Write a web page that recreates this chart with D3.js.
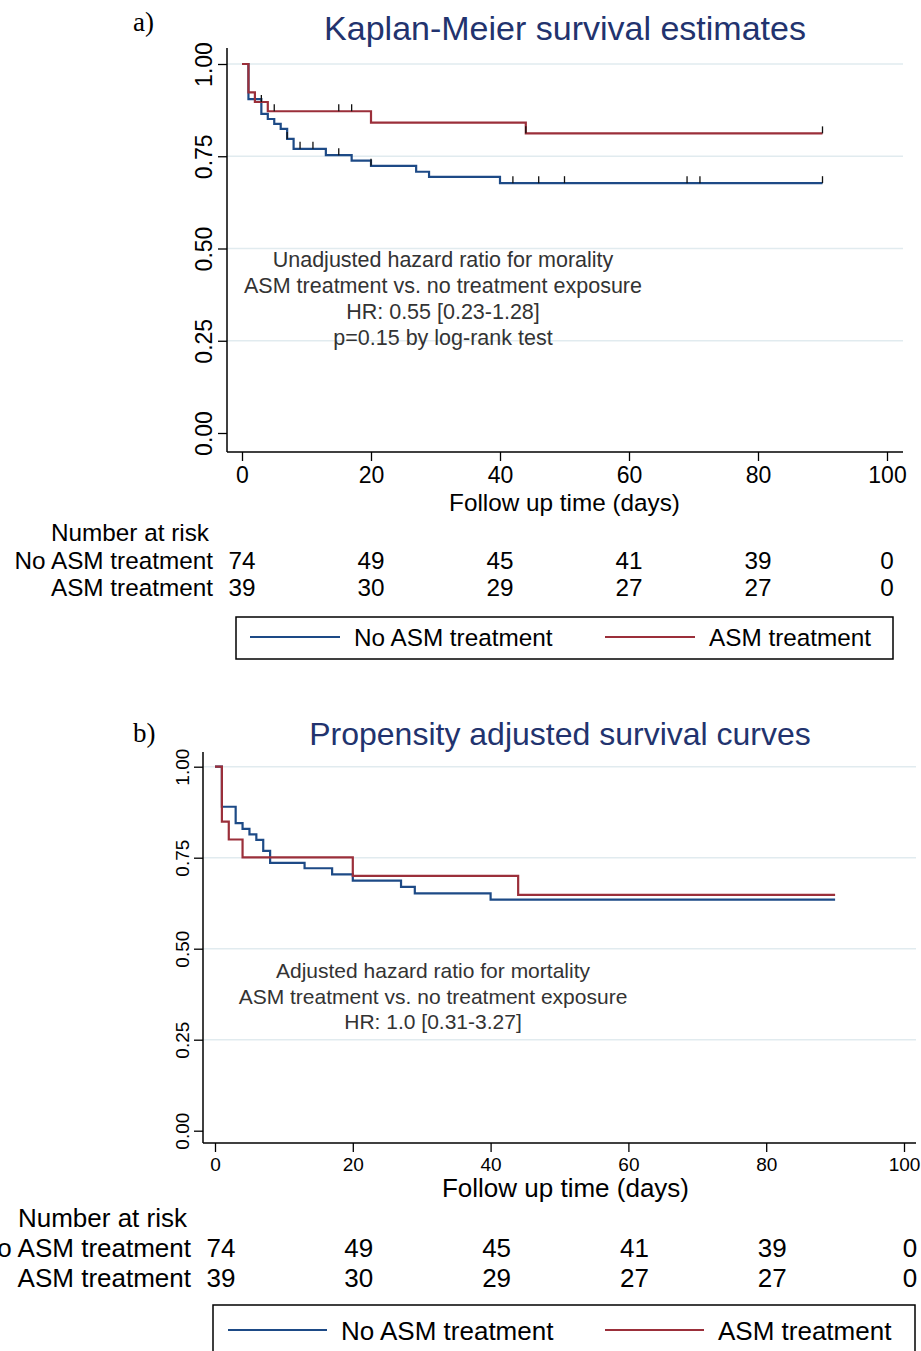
<!DOCTYPE html>
<html>
<head>
<meta charset="utf-8">
<script src="https://cdn.jsdelivr.net/npm/d3@7"></script>
<style>
  body { margin: 0; background: #fff; }
  svg { display: block; font-family: "Liberation Sans", Arial, Helvetica, sans-serif; }
</style>
</head>
<body>
<svg id="chart" width="921" height="1351"></svg>
<script>
// survival steps (time in days, survival probability)
const noTxTimesA = [0, 1, 3, 4, 5, 6, 7, 8, 13, 17, 20, 27, 29, 40, 90];
const noTxSurvA = [1, 0.905, 0.865, 0.851, 0.838, 0.824, 0.797, 0.770, 0.753, 0.738, 0.724, 0.708, 0.694, 0.677, 0.677];
const noTxCensorA = [7, 9, 11, 15, 20, 42, 46, 50, 69, 71, 90];

const txTimesA = [0, 1, 2, 4, 20, 44, 90];
const txSurvA = [1, 0.923, 0.897, 0.872, 0.841, 0.812, 0.812];
const txCensorA = [3, 5, 15, 17, 44, 90];

const noTxTimesB = [0, 1, 3, 4, 5, 6, 7, 8, 13, 17, 20, 27, 29, 40, 90];
const noTxSurvB = [1, 0.890, 0.845, 0.829, 0.814, 0.799, 0.769, 0.736, 0.721, 0.704, 0.687, 0.670, 0.652, 0.635, 0.635];

const txTimesB = [0, 1, 2, 4, 20, 44, 90];
const txSurvB = [1, 0.849, 0.800, 0.751, 0.700, 0.648, 0.648];

const xTicks = [0, 20, 40, 60, 80, 100];
const yTicks = [0, 0.25, 0.5, 0.75, 1];
const riskTimes = [0, 20, 40, 60, 80, 100];
const riskNoTx = [74, 49, 45, 41, 39, 0];
const riskTx = [39, 30, 29, 27, 27, 0];

const seriesNames = ['No ASM treatment', 'ASM treatment'];
const BLUE = '#1d4a86';
const RED = '#9b2f3a';
const TITLE = '#22336e';

const svg = d3.select('#chart');

function drawPanel(p) {
  const x = d3.scaleLinear().domain([0, 100]).range(p.xRange);
  const y = d3.scaleLinear().domain([0, 1]).range(p.yRange);
  const g = svg.append('g');

  // panel letter + title
  g.append('text')
    .attr('x', 133).attr('y', p.letterY)
    .style('font-family', '"Liberation Serif", "Times New Roman", serif')
    .style('font-size', '27px')
    .text(p.letter);
  g.append('text')
    .attr('x', p.titleX).attr('y', p.titleY)
    .attr('text-anchor', 'middle')
    .attr('fill', TITLE)
    .style('font-size', p.titleSize + 'px')
    .text(p.title);

  // grid
  g.selectAll('.grid')
    .data(yTicks.filter((d) => d > 0))
    .enter().append('line')
    .attr('x1', p.left).attr('x2', p.right)
    .attr('y1', (d) => y(d)).attr('y2', (d) => y(d))
    .attr('stroke', '#e1ebef').attr('stroke-width', 1.5);

  // axes
  const xAxis = g.append('g')
    .attr('transform', `translate(0,${p.bottom})`)
    .call(d3.axisBottom(x).tickValues(xTicks).tickSize(9).tickSizeOuter(0));
  xAxis.select('.domain').remove();
  xAxis.selectAll('line').attr('stroke', '#000').attr('stroke-width', 1.3);
  xAxis.selectAll('text')
    .attr('y', p.xLabelDy).attr('dy', 0)
    .attr('fill', '#000')
    .style('font-family', '"Liberation Sans", Arial, sans-serif')
    .style('font-size', p.tickSize + 'px');

  const yAxis = g.append('g')
    .attr('transform', `translate(${p.left},0)`)
    .call(d3.axisLeft(y).tickValues(yTicks).tickFormat(d3.format('.2f')).tickSize(9).tickSizeOuter(0));
  yAxis.select('.domain').remove();
  yAxis.selectAll('line').attr('stroke', '#000').attr('stroke-width', 1.3);
  yAxis.selectAll('text')
    .attr('transform', 'rotate(-90)')
    .attr('x', 0).attr('y', -p.yLabelOff).attr('dy', 0)
    .attr('text-anchor', 'middle')
    .attr('fill', '#000')
    .style('font-family', '"Liberation Sans", Arial, sans-serif')
    .style('font-size', p.tickSize + 'px');

  g.append('line')
    .attr('x1', p.left).attr('x2', p.left)
    .attr('y1', p.top).attr('y2', p.bottom)
    .attr('stroke', '#000').attr('stroke-width', 1.5);
  g.append('line')
    .attr('x1', p.left).attr('x2', p.right)
    .attr('y1', p.bottom).attr('y2', p.bottom)
    .attr('stroke', '#000').attr('stroke-width', 1.5);

  g.append('text')
    .attr('x', (x(0) + x(100)) / 2 + p.xTitleShift).attr('y', p.xTitleY)
    .attr('text-anchor', 'middle')
    .style('font-size', p.bigSize + 'px')
    .text('Follow up time (days)');

  // annotation
  g.selectAll('.note')
    .data(p.note)
    .enter().append('text')
    .attr('x', p.noteX)
    .attr('y', (d, i) => p.noteY + i * p.noteStep)
    .attr('text-anchor', 'middle')
    .attr('fill', '#333')
    .style('font-size', p.noteSize + 'px')
    .text((d) => d);

  // curves
  const line = d3.line()
    .curve(d3.curveStepAfter)
    .x((d) => x(d[0]))
    .y((d) => y(d[1]));

  p.series.forEach((s) => {
    const pts = s.times.map((t, i) => [t, s.surv[i]]);
    g.append('path')
      .attr('d', line(pts))
      .attr('fill', 'none')
      .attr('stroke', s.color)
      .attr('stroke-width', 2.2);
    if (s.censor) {
      const survAt = (t) => {
        let v = s.surv[0];
        s.times.forEach((tt, i) => { if (tt <= t) v = s.surv[i]; });
        return v;
      };
      g.selectAll(null)
        .data(s.censor)
        .enter().append('line')
        .attr('x1', (d) => x(d)).attr('x2', (d) => x(d))
        .attr('y1', (d) => y(survAt(d))).attr('y2', (d) => y(survAt(d)) - 7)
        .attr('stroke', '#111').attr('stroke-width', 1.3);
    }
  });

  // number at risk
  g.append('text')
    .attr('x', p.riskLabelX - 4).attr('y', p.riskY)
    .attr('text-anchor', 'end')
    .style('font-size', p.riskSize + 'px')
    .text('Number at risk');
  [riskNoTx, riskTx].forEach((row, r) => {
    const ry = p.riskY + (r + 1) * p.riskStep;
    g.append('text')
      .attr('x', p.riskLabelX).attr('y', ry)
      .attr('text-anchor', 'end')
      .style('font-size', p.riskSize + 'px')
      .text(seriesNames[r]);
    g.selectAll(null)
      .data(riskTimes)
      .enter().append('text')
      .attr('x', (d) => x(d) + p.riskShift)
      .attr('y', ry)
      .attr('text-anchor', 'middle')
      .style('font-size', p.riskSize + 'px')
      .text((d, i) => row[i]);
  });

  // legend
  const lg = p.legend;
  g.append('rect')
    .attr('x', lg.x).attr('y', lg.y)
    .attr('width', lg.w).attr('height', lg.h)
    .attr('fill', 'none').attr('stroke', '#000').attr('stroke-width', 1.5);
  [BLUE, RED].forEach((c, i) => {
    const lx = lg.items[i];
    g.append('line')
      .attr('x1', lx).attr('x2', lx + lg.lineLen)
      .attr('y1', lg.lineY).attr('y2', lg.lineY)
      .attr('stroke', c).attr('stroke-width', 2.2);
    g.append('text')
      .attr('x', lx + lg.lineLen + 14).attr('y', lg.textY)
      .style('font-size', p.bigSize + 'px')
      .text(seriesNames[i]);
  });
}

drawPanel({
  letter: 'a)', letterY: 31,
  title: 'Kaplan-Meier survival estimates', titleX: 565, titleY: 40, titleSize: 34,
  xRange: [242, 887], yRange: [433, 64],
  left: 227, right: 903, top: 48, bottom: 452,
  tickSize: 23, xLabelDy: 31, yLabelOff: 15,
  bigSize: 24.3, xTitleY: 511, xTitleShift: 0,
  note: ['Unadjusted hazard ratio for morality', 'ASM treatment vs. no treatment exposure',
    'HR: 0.55 [0.23-1.28]', 'p=0.15 by log-rank test'],
  noteX: 443, noteY: 267, noteStep: 26, noteSize: 21.5,
  series: [
    { times: noTxTimesA, surv: noTxSurvA, censor: noTxCensorA, color: BLUE },
    { times: txTimesA, surv: txSurvA, censor: txCensorA, color: RED },
  ],
  riskLabelX: 213, riskY: 541, riskStep: 27.5, riskShift: 0, riskSize: 24.3,
  legend: { x: 236, y: 617, w: 657, h: 42, items: [250, 605], lineLen: 90, lineY: 637, textY: 646 },
});

drawPanel({
  letter: 'b)', letterY: 742,
  title: 'Propensity adjusted survival curves', titleX: 560, titleY: 745, titleSize: 32,
  xRange: [215, 904], yRange: [1130.7, 766.7],
  left: 203, right: 916, top: 752, bottom: 1143,
  tickSize: 19, xLabelDy: 28, yLabelOff: 14,
  bigSize: 26, xTitleY: 1197, xTitleShift: 6,
  note: ['Adjusted  hazard ratio for mortality', 'ASM treatment vs. no treatment exposure', 'HR: 1.0 [0.31-3.27]'],
  noteX: 433, noteY: 978, noteStep: 25.5, noteSize: 21,
  series: [
    { times: noTxTimesB, surv: noTxSurvB, color: BLUE },
    { times: txTimesB, surv: txSurvB, color: RED },
  ],
  riskLabelX: 191, riskY: 1227, riskStep: 30, riskShift: 6, riskSize: 26,
  legend: { x: 213, y: 1305, w: 702, h: 60, items: [228, 605], lineLen: 99, lineY: 1330, textY: 1340 },
});
</script>
</body>
</html>
